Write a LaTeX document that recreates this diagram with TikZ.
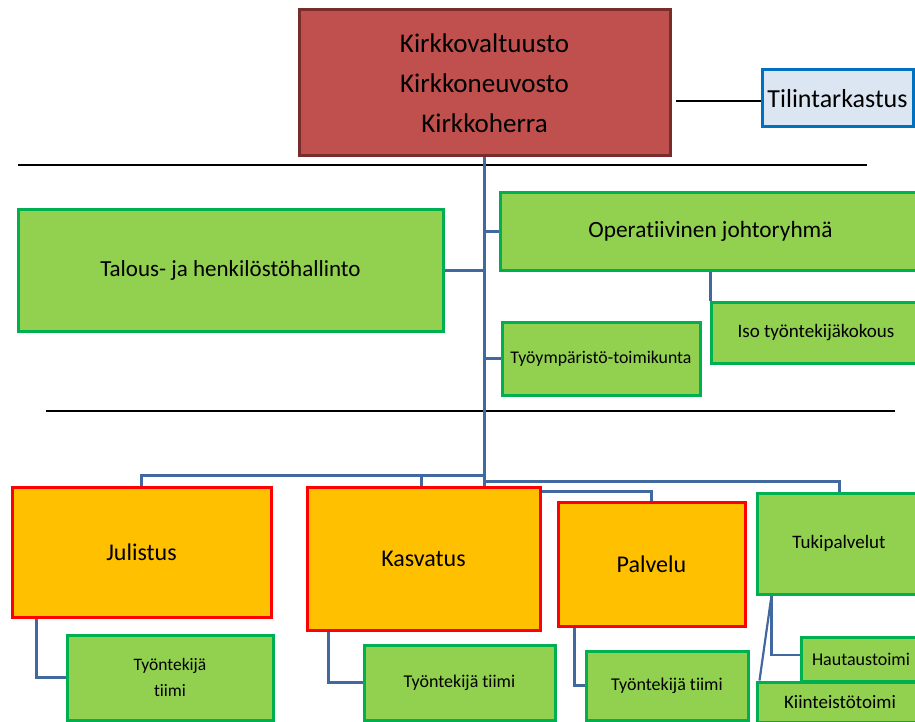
\documentclass[tikz,border=0pt]{standalone}
\usepackage{fontspec}
\setmainfont{Carlito}[Ligatures=NoCommon]
\usetikzlibrary{backgrounds}
\definecolor{topfill}{RGB}{192,80,77}
\definecolor{topline}{RGB}{120,45,45}
\definecolor{grfill}{RGB}{146,208,80}
\definecolor{grline}{RGB}{0,176,80}
\definecolor{orfill}{RGB}{255,192,0}
\definecolor{orline}{RGB}{255,0,0}
\definecolor{blfill}{RGB}{220,230,242}
\definecolor{blline}{RGB}{0,112,192}
\definecolor{conncol}{RGB}{65,105,160}
\tikzset{
  box/.style={draw, line width=3pt, inner sep=0pt, align=center},
  topbox/.style={box, fill=topfill, draw=topline},
  grbox/.style={box, fill=grfill, draw=grline},
  orbox/.style={box, fill=orfill, draw=orline},
  blbox/.style={box, fill=blfill, draw=blline},
  conn/.style={draw=conncol, line width=3pt},
  thinconn/.style={draw=conncol, line width=2.2pt},
  sep/.style={draw=black, line width=1.3pt}
}
\begin{document}
\begin{tikzpicture}[x=1pt,y=-1pt]
\useasboundingbox (0,0) rectangle (915,722);
\clip (0,0) rectangle (915,722);
% nodes
\node[topbox, minimum width=371pt, minimum height=146pt, font=\fontsize{27}{40}\selectfont] (top) at (484.5,83) {Kirkkovaltuusto\\Kirkkoneuvosto\\Kirkkoherra};
\node[blbox, minimum width=151pt, minimum height=57pt, font=\fontsize{26}{30}\selectfont] (til) at (837.5,98.5) {Tilintarkastus};
\node[grbox, minimum width=425pt, minimum height=122pt, font=\fontsize{23}{28}\selectfont] (tal) at (230.5,270) {Talous- ja henkilöstöhallinto};
\node[grbox, minimum width=421pt, minimum height=77pt, font=\fontsize{23.3}{28}\selectfont] (op) at (710.5,231.5) {Operatiivinen johtoryhmä};
\node[grbox, minimum width=210pt, minimum height=61pt, font=\fontsize{19}{24}\selectfont] (iso) at (816,332.5) {Iso työntekijäkokous};
\node[grbox, minimum width=198pt, minimum height=73pt, font=\fontsize{17.8}{22}\selectfont] (ty) at (601,358.5) {Työympäristö-toimikunta};
\node[orbox, minimum width=259pt, minimum height=130pt, font=\fontsize{24}{28}\selectfont] (jul) at (141.5,552) {Julistus};
\node[orbox, minimum width=233pt, minimum height=143pt, font=\fontsize{24}{28}\selectfont] (kas) at (423.5,558.5) {Kasvatus};
\node[orbox, minimum width=187pt, minimum height=124pt, font=\fontsize{24}{28}\selectfont] (pal) at (651.5,564) {Palvelu};
\node[grbox, minimum width=164pt, minimum height=101pt, font=\fontsize{19}{24}\selectfont] (tuki) at (839,543.5) {Tukipalvelut};
\node[grbox, minimum width=206pt, minimum height=85pt, font=\fontsize{17.5}{26}\selectfont] (jt) at (170,677.5) {Työntekijä\\tiimi};
\node[grbox, minimum width=191pt, minimum height=75pt, font=\fontsize{18}{22}\selectfont] (kt) at (459.5,682.5) {Työntekijä tiimi};
\node[grbox, minimum width=162pt, minimum height=69pt, font=\fontsize{18}{22}\selectfont] (pt) at (667,685.5) {Työntekijä tiimi};
\node[grbox, minimum width=120pt, minimum height=44pt, font=\fontsize{18}{22}\selectfont] (haut) at (861,659) {Hautaustoimi};
\node[grbox, minimum width=166pt, minimum height=40pt, font=\fontsize{19}{24}\selectfont] (kiin) at (840,702) {Kiinteistötoimi};
% coordinates
\coordinate (tl) at (676,101);
\coordinate (bj) at (485,475);
\coordinate (br) at (485,481);
\coordinate (bp) at (538,491);
\begin{scope}[on background layer]
% separators
\draw[sep] (18,165) -- (867,165);
\draw[sep] (46,411) -- (895,411);
% connectors
\draw[black, line width=1.2pt] (tl) -- (til.west |- tl);
\draw[conn, line width=3.5pt] (top.south) -- (top.south |- kas.north);
\draw[conn] (tal.east) -- (tal.east -| top.south);
\draw[conn] (op.west) -- (op.west -| top.south);
\draw[conn] (ty.west) -- (ty.west -| top.south);
\draw[thinconn] ([xshift=1pt]iso.north west) -- ([xshift=1pt]iso.north west |- op.south);
\draw[conn] (bj) -| (jul.north);
\draw[conn] ([xshift=-2pt]kas.north) -- ([xshift=-2pt]kas.north |- bj);
\draw[conn] (br) -| (tuki.north);
\draw[conn] (bp) -| (pal.north);
\draw[thinconn] ([xshift=26pt]jul.south west) |- (jt.west);
\draw[thinconn] ([xshift=23pt]kas.south west) |- (kt.west);
\draw[thinconn] ([xshift=18pt]pal.south west) |- (pt.west);
\draw[thinconn] ([xshift=16pt]tuki.south west) |- ([yshift=4pt]haut.west);
\draw[thinconn] ([xshift=16pt]tuki.south west) -- ([xshift=4pt]kiin.north west);
\end{scope}
\end{tikzpicture}
\end{document}
